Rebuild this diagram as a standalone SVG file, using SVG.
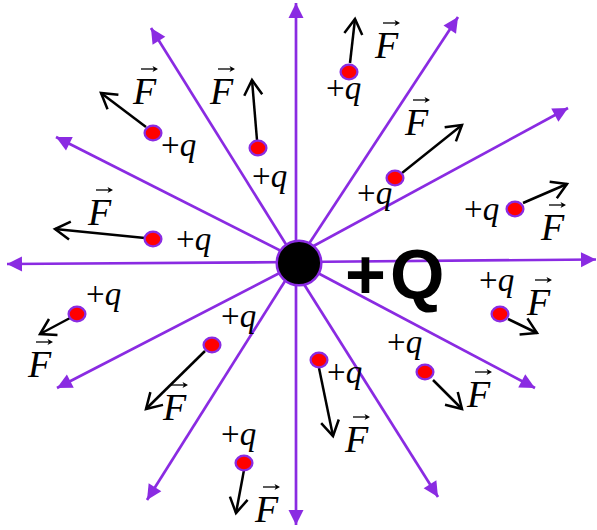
<svg xmlns="http://www.w3.org/2000/svg" xmlns:xlink="http://www.w3.org/1999/xlink" width="597" height="530" viewBox="0 0 597 530">
<style>
.fl{stroke:#8A2BE2;stroke-width:2.7;fill:none;marker-end:url(#tri)}
.fa{stroke:#000;stroke-width:2.5;fill:none;marker-end:url(#chev)}
.ch{fill:#FF0000;stroke:#8A2BE2;stroke-width:2.3}
.F{font-family:"Liberation Serif",serif;font-style:italic;font-size:38px;fill:#000}
.q{font-family:"Liberation Serif",serif;font-size:33px;fill:#000}
.q tspan{font-style:italic}
.Q{font-family:"Liberation Sans",Arial,sans-serif;font-weight:bold;font-size:70px;fill:#000}
</style>
<defs>
<marker id="tri" markerUnits="userSpaceOnUse" markerWidth="16" markerHeight="16" refX="15" refY="7.5" orient="auto" overflow="visible">
<path d="M0,0 L15,7.5 L0,15 z" fill="#8A2BE2"/>
</marker>
<marker id="chev" markerUnits="userSpaceOnUse" markerWidth="20" markerHeight="20" refX="15" refY="9" orient="auto" overflow="visible">
<path d="M0,0 L15,9 L0,18" fill="none" stroke="#000" stroke-width="2.5"/>
</marker>
<g id="vec">
<path d="M0,0 H14" stroke="#000" stroke-width="1.3" fill="none"/>
<path d="M17,0 L11.5,-3 L13,0 L11.5,3 z" fill="#000"/>
</g>
</defs>
<rect width="597" height="530" fill="#fff"/>
<g id="field-lines">
<path class="fl" d="M296,262 L296,3"/>
<path class="fl" d="M296,262 L296,525"/>
<path class="fl" d="M297,262 L7,264"/>
<path class="fl" d="M297,262 L596,259.5"/>
<path class="fl" d="M297,262 L151,28"/>
<path class="fl" d="M297,259 L56,137"/>
<path class="fl" d="M297,262 L458,17"/>
<path class="fl" d="M297,255 L568,108"/>
<path class="fl" d="M297,264 L57,388"/>
<path class="fl" d="M297,262 L147,500"/>
<path class="fl" d="M290,262 L438,497"/>
<path class="fl" d="M297,262 L535,388"/>
</g>
<g id="center-charge">
<circle cx="299" cy="263" r="22.3" fill="#000" stroke="#8A2BE2" stroke-width="2.5"/>
<text class="Q" y="299"><tspan x="345">+</tspan><tspan x="390">Q</tspan></text>
</g>
<g id="charge-a">
<path class="fa" d="M350,63 L355,19"/>
<ellipse class="ch" cx="349" cy="72" rx="8.4" ry="7.4"/>
<text class="F" x="375" y="58">F</text><use xlink:href="#vec" x="383" y="23"/>
<text class="q" x="326" y="99">+<tspan>q</tspan></text>
</g>
<g id="charge-b">
<path class="fa" d="M146,127 L101,93"/>
<ellipse class="ch" cx="153" cy="133" rx="8.4" ry="7.4"/>
<text class="F" x="133" y="104">F</text><use xlink:href="#vec" x="141" y="69"/>
<text class="q" x="161" y="156">+<tspan>q</tspan></text>
</g>
<g id="charge-c">
<path class="fa" d="M257,140 L252,80"/>
<ellipse class="ch" cx="258" cy="148" rx="8.4" ry="7.4"/>
<text class="F" x="210" y="104">F</text><use xlink:href="#vec" x="218" y="69"/>
<text class="q" x="252" y="187">+<tspan>q</tspan></text>
</g>
<g id="charge-d">
<path class="fa" d="M402,173 L462,125"/>
<ellipse class="ch" cx="395" cy="178" rx="8.4" ry="7.4"/>
<text class="F" x="405" y="135">F</text><use xlink:href="#vec" x="413" y="100"/>
<text class="q" x="357" y="204">+<tspan>q</tspan></text>
</g>
<g id="charge-e">
<path class="fa" d="M523,203 L567,184"/>
<ellipse class="ch" cx="515" cy="209" rx="8.4" ry="7.4"/>
<text class="F" x="541" y="240">F</text><use xlink:href="#vec" x="549" y="205"/>
<text class="q" x="464" y="220">+<tspan>q</tspan></text>
</g>
<g id="charge-f">
<path class="fa" d="M145,238 L55,229"/>
<ellipse class="ch" cx="153" cy="239" rx="8.4" ry="7.4"/>
<text class="F" x="88" y="225">F</text><use xlink:href="#vec" x="96" y="190"/>
<text class="q" x="176" y="250">+<tspan>q</tspan></text>
</g>
<g id="charge-g">
<path class="fa" d="M70,318 L40,334"/>
<ellipse class="ch" cx="77" cy="314" rx="8.4" ry="7.4"/>
<text class="F" x="28" y="377">F</text><use xlink:href="#vec" x="36" y="342"/>
<text class="q" x="86" y="305">+<tspan>q</tspan></text>
</g>
<g id="charge-h">
<path class="fa" d="M205,351 L146,409"/>
<ellipse class="ch" cx="212" cy="345" rx="8.4" ry="7.4"/>
<text class="F" x="163" y="420">F</text><use xlink:href="#vec" x="171" y="385"/>
<text class="q" x="221" y="327">+<tspan>q</tspan></text>
</g>
<g id="charge-i">
<path class="fa" d="M319,368 L333,436"/>
<ellipse class="ch" cx="319" cy="360" rx="8.4" ry="7.4"/>
<text class="F" x="345" y="452">F</text><use xlink:href="#vec" x="353" y="417"/>
<text class="q" x="327" y="383">+<tspan>q</tspan></text>
</g>
<g id="charge-j">
<path class="fa" d="M433,380 L462,409"/>
<ellipse class="ch" cx="425" cy="372" rx="8.4" ry="7.4"/>
<text class="F" x="467" y="407">F</text><use xlink:href="#vec" x="475" y="372"/>
<text class="q" x="387" y="353">+<tspan>q</tspan></text>
</g>
<g id="charge-k">
<path class="fa" d="M508,319 L537,333"/>
<ellipse class="ch" cx="500" cy="314" rx="8.4" ry="7.4"/>
<text class="F" x="527" y="315">F</text><use xlink:href="#vec" x="535" y="280"/>
<text class="q" x="479" y="291">+<tspan>q</tspan></text>
</g>
<g id="charge-l">
<path class="fa" d="M244,470 L236,513"/>
<ellipse class="ch" cx="244" cy="463" rx="8.4" ry="7.4"/>
<text class="F" x="255" y="522">F</text><use xlink:href="#vec" x="263" y="487"/>
<text class="q" x="221" y="445">+<tspan>q</tspan></text>
</g>
</svg>
